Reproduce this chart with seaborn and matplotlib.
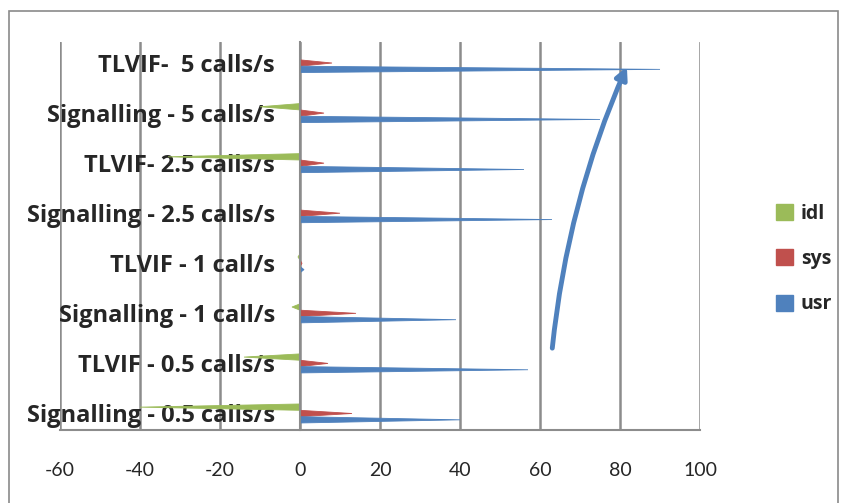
import matplotlib
matplotlib.use("Agg")
import matplotlib.pyplot as plt
import seaborn as sns
import pandas as pd
from matplotlib.patches import Polygon, Patch, Rectangle

# data (top to bottom)
categories = [
    "TLVIF-  5 calls/s",
    "Signalling - 5 calls/s",
    "TLVIF- 2.5 calls/s",
    "Signalling - 2.5 calls/s",
    "TLVIF - 1 call/s",
    "Signalling - 1 call/s",
    "TLVIF - 0.5 calls/s",
    "Signalling - 0.5 calls/s",
]
idl = [0, -10, -33, 0, -0.5, -2, -14, -40]
sys_ = [8, 6, 6, 10, 0.5, 14, 7, 13]
usr = [90, 75, 56, 63, 1, 39, 57, 40]
series = ["idl", "sys", "usr"]
colors = ["#9BBB59", "#C0504D", "#4F81BD"]
xticks = [-60, -40, -20, 0, 20, 40, 60, 80, 100]

df = pd.DataFrame({
    "category": categories * 3,
    "series": ["idl"] * 8 + ["sys"] * 8 + ["usr"] * 8,
    "value": idl + sys_ + usr,
})

sns.set_style("white")
plt.rcParams["font.family"] = ["Lato", "DejaVu Sans"]
bold_font = {"family": ["Open Sans", "DejaVu Sans"], "weight": "bold"}

fig = plt.figure(figsize=(8.44, 5.03), dpi=100)
ax = fig.add_axes([60 / 844, 1 - 430 / 503, 640 / 844, (430 - 42) / 503])

sns.barplot(data=df, x="value", y="category", hue="series", order=categories,
            hue_order=series, palette=colors, orient="h", width=0.38,
            legend=False, ax=ax)

# turn the flat bars into cones tapering to the value
for cont, col in zip(ax.containers, colors):
    for bar in cont:
        y0, h, w = bar.get_y(), bar.get_height(), bar.get_width()
        tri = Polygon([(0, y0), (w, y0 + h / 2), (0, y0 + h)], closed=True,
                      facecolor=col, edgecolor=col, lw=0.6, zorder=2)
        ax.add_patch(tri)
        bar.set_visible(False)

ax.set_xlim(-60, 100)
ax.set_ylim(7.33, -0.42)
ax.set_xticks(xticks)
ax.set_xticklabels([str(t) for t in xticks], fontsize=14)
ax.set_xlabel("")
ax.set_ylabel("")
ax.grid(axis="x", color="#8c8c8c", lw=1.8)
ax.set_axisbelow(True)

for s in ["top", "right"]:
    ax.spines[s].set_visible(False)
ax.spines["left"].set_position(("data", 0))
ax.spines["left"].set_color("#8c8c8c")
ax.spines["left"].set_linewidth(1.5)
ax.spines["bottom"].set_color("#8c8c8c")
ax.spines["bottom"].set_linewidth(1.5)

ax.tick_params(axis="y", which="major", length=0, pad=18)
ax.set_yticks(range(len(categories)))
ax.set_yticklabels(categories, fontdict=dict(bold_font, size=17))
ax.set_yticks([i + d for i in range(8) for d in (-0.25, 0.25)], minor=True)
ax.tick_params(axis="y", which="minor", length=6, direction="out",
               color="#8c8c8c", width=1.2)
ax.tick_params(axis="x", length=6, direction="out", color="#8c8c8c",
               width=1.2, pad=17)

# curved arrow pointing at the highest usr value
ax.annotate("", xy=(82, 0.02), xytext=(63, 5.75),
            arrowprops=dict(arrowstyle="-|>,head_length=0.7,head_width=0.35",
                            connectionstyle="arc3,rad=-0.08",
                            color="#4F81BD", lw=3.5))

handles = [Patch(facecolor=c, edgecolor=c) for c in colors]
fig.legend(handles, series, loc="center left",
           bbox_to_anchor=(758 / 844, 1 - 259 / 503), frameon=False,
           labelspacing=1.3, handlelength=0.9, handleheight=0.9,
           handletextpad=0.4, prop=dict(bold_font, size=14))

fig.patches.append(Rectangle((9 / 844, -0.05), 829 / 844, 1.05 - 11 / 503,
                             transform=fig.transFigure, fill=False,
                             edgecolor="#8a8a8a", lw=1.2))

fig.savefig("out.png", dpi=100)
